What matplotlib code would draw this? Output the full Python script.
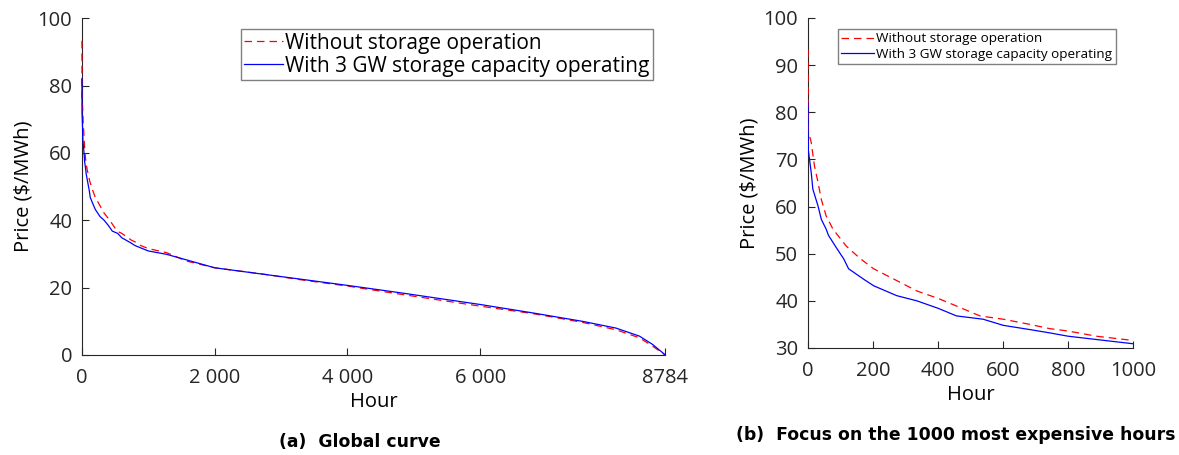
import matplotlib
matplotlib.use('Agg')
import matplotlib.pyplot as plt

# sorted hourly prices
hours_no_storage = [0, 1, 10, 20, 31, 41, 56, 77, 118, 160, 202, 273, 335, 401, 457, 529, 601, 683,
                    744, 800, 887, 1000, 1275, 1575, 2000, 2775, 3275, 3990, 4750, 6000, 6790, 7540,
                    8045, 8400, 8600, 8784]
price_no_storage = [93.3, 76, 73.6, 68.6, 65.1, 61.5, 58.0, 55.2, 51.6, 49.0, 46.8, 44.3, 42.1, 40.5,
                    38.9, 36.8, 36.1, 35.0, 34.1, 33.6, 32.5, 31.6, 30.4, 27.9, 25.9, 23.9, 22.4, 20.5,
                    18.2, 14.5, 12.3, 9.7, 7.5, 5.1, 2.6, 0.0]

hours_storage = [0, 1, 10, 15, 31, 41, 56, 63, 87, 110, 125, 171, 202, 273, 335, 401, 457, 539, 601,
                 683, 744, 800, 887, 1000, 1275, 2000, 3990, 4790, 6000, 6790, 7540, 8045, 8400,
                 8600, 8784]
price_storage = [82.0, 72.0, 67.2, 63.7, 60.1, 57.3, 55.2, 53.9, 51.3, 48.9, 46.8, 44.6, 43.2, 41.1,
                 40.0, 38.4, 36.8, 36.1, 34.8, 33.9, 33.2, 32.5, 31.8, 30.9, 29.9, 25.9, 20.7, 18.5,
                 15.0, 12.5, 10.0, 8.0, 5.6, 3.1, 0.1]

label_no = 'Without storage operation'
label_st = 'With 3 GW storage capacity operating'

plt.rcParams['font.family'] = ['Open Sans', 'DejaVu Sans']
plt.rcParams['axes.edgecolor'] = '#262626'
plt.rcParams['xtick.color'] = '#262626'
plt.rcParams['ytick.color'] = '#262626'

fig = plt.figure(figsize=(11.79, 4.55), dpi=100)
ax1 = fig.add_axes([0.0695, 0.2198, 0.4945, 0.740])
ax2 = fig.add_axes([0.6853, 0.2352, 0.2757, 0.7253])

dash = (0, (6, 4))


def style_axes(ax, fs):
    for s in ['top', 'right']:
        ax.spines[s].set_visible(False)
    ax.tick_params(direction='in', labelsize=fs, length=5, width=0.8)
    ax.tick_params(axis='x', pad=9.5)
    ax.tick_params(axis='y', pad=7)
    ax.set_xlabel('Hour', fontsize=fs, labelpad=3)
    ax.set_ylabel('Price ($/MWh)', fontsize=fs, labelpad=3)


# (a) global curve
ax1.plot(hours_no_storage, price_no_storage, color='#ff0000', linestyle=dash, lw=0.9, label=label_no,
         zorder=3, clip_on=False)
ax1.plot(hours_storage, price_storage, color='#0000ff', lw=0.9, label=label_st, zorder=3, clip_on=False)
ax1.set_xlim(0, 8784)
ax1.set_ylim(0, 100)
ax1.set_xticks([0, 2000, 4000, 6000, 8784])
ax1.set_xticklabels(['0', '2 000', '4 000', '6 000', '8784'])
ax1.set_yticks([0, 20, 40, 60, 80, 100])
style_axes(ax1, 14.5)
leg1 = ax1.legend(loc='upper left', bbox_to_anchor=(0.272, 0.967), fontsize=15, fancybox=False,
                  handlelength=1.9, handletextpad=0.1, borderpad=0.15, labelspacing=0.1,
                  borderaxespad=0, framealpha=1)
leg1.get_frame().set_edgecolor('#808080')

# (b) 1000 most expensive hours
ax2.plot(hours_no_storage, price_no_storage, color='#ff0000', linestyle=dash, lw=0.9, label=label_no,
         zorder=3)
ax2.plot(hours_storage, price_storage, color='#0000ff', lw=0.9, label=label_st, zorder=3)
ax2.set_xlim(0, 1000)
ax2.set_ylim(30, 100)
ax2.set_xticks([0, 200, 400, 600, 800, 1000])
ax2.set_yticks([30, 40, 50, 60, 70, 80, 90, 100])
style_axes(ax2, 14.5)
leg2 = ax2.legend(loc='upper left', bbox_to_anchor=(0.092, 0.967), fontsize=9.7, fancybox=False,
                  handlelength=2.4, handletextpad=0.2, borderpad=0.25, labelspacing=0.2,
                  borderaxespad=0, framealpha=1)
leg2.get_frame().set_edgecolor('#808080')

fig.text(0.305, 0.029, '(a)  Global curve', fontsize=12.4, fontweight='bold', ha='center', va='center',
         family='DejaVu Sans')
fig.text(0.811, 0.044, '(b)  Focus on the 1000 most expensive hours', fontsize=12.4, fontweight='bold',
         ha='center', va='center', family='DejaVu Sans')

fig.savefig('out.png', dpi=100)
